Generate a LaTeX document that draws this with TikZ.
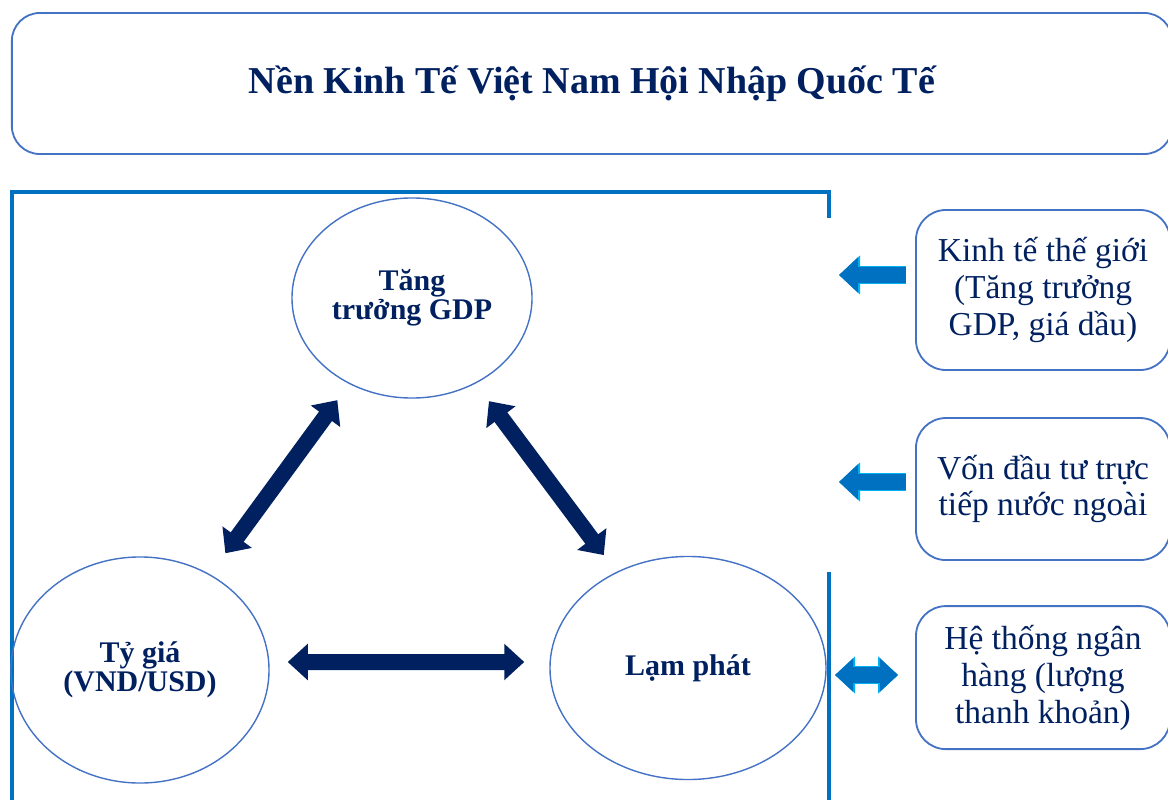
\documentclass[tikz,border=0pt]{standalone}
\usepackage{fontspec}
\setmainfont{Liberation Serif}
\usepackage{tikz}
\usetikzlibrary{arrows.meta, shapes.geometric, positioning}

\definecolor{navy}{HTML}{002060}
\definecolor{lineblue}{HTML}{4472C4}
\definecolor{frameblue}{HTML}{0070C0}
\definecolor{lightcyan}{HTML}{00B0F0}

\begin{document}
\begin{tikzpicture}[x=0.025cm, y=-0.025cm, text=navy,
 main node/.style={ellipse, draw=lineblue, line width=1pt, inner sep=0pt,
   align=center, font=\fontsize{21.3}{20.6}\selectfont\bfseries},
 side node/.style={rectangle, rounded corners=0.75cm, draw=lineblue, line width=1.3pt,
   minimum width=6.35cm, align=center, font=\fontsize{23.8}{26.2}\selectfont},
 big arrow/.style={draw=navy, line width=0.4cm,
   {Triangle[width=0.88cm,length=0.5cm]}-{Triangle[width=0.88cm,length=0.5cm]}},
 small arrow/.style={draw=frameblue, line width=0.4cm},
 frame/.style={draw=frameblue, line width=2.8pt}]
  \useasboundingbox (0,0) rectangle (1168,800);

  % title
  \node[rectangle, rounded corners=0.7cm, draw=lineblue, line width=1.3pt,
    minimum width=29cm, minimum height=3.525cm,
    font=\fontsize{27}{30}\selectfont\bfseries] (title) at (592,83.5)
    {Nền Kinh Tế Việt Nam Hội Nhập Quốc Tế};

  % frame round the three factors
  \draw[frame] (829,218) -- (829,192) -- (12,192) -- (12,802);
  \draw[frame] (829,572) -- (829,802);

  \node[main node, minimum width=6cm, minimum height=5cm] (gdp) at (412,298)
    {Tăng\\trưởng GDP};
  \node[main node, minimum width=6.45cm, minimum height=5.65cm] (tygia) at (140,670)
    {Tỷ giá\\(VND/USD)};
  \node[main node, minimum width=6.9cm, minimum height=5.575cm] (lamphat) at (688,668)
    {Lạm phát};

  \draw[big arrow, shorten <=0.5cm, shorten >=0.65cm] (gdp) -- (tygia);
  \draw[big arrow, shorten <=0.55cm, shorten >=0.525cm] (gdp) -- (lamphat);
  \draw[big arrow, shorten <=0.45cm, shorten >=0.625cm]
    ([yshift=0.2cm]tygia.east) -- ([yshift=0.15cm]lamphat.west);

  % outside factors
  \node[side node, minimum height=4cm] (kinhte) at (1043,290)
    {Kinh tế thế giới\\(Tăng trưởng\\GDP, giá dầu)};
  \node[side node, minimum height=3.55cm, node distance=4.975cm] (fdi) [below of=kinhte]
    {Vốn đầu tư trực\\tiếp nước ngoài};
  \node[side node, minimum height=3.575cm, node distance=4.7125cm] (nganhang) [below of=fdi]
    {Hệ thống ngân\\hàng (lượng\\thanh khoản)};

  \coordinate (w1) at (839,275);
  \coordinate (w2) at (839,482);
  \coordinate (w3) at (835,675);
  \foreach \s/\t in {kinhte/w1, fdi/w2} {
   \draw[small arrow, -{Triangle[width=0.85cm,length=0.47cm]}, shorten <=0.225cm,
     preaction={draw=lightcyan, line width=0.46cm, -{Triangle[width=0.95cm,length=0.53cm]}}]
     (\s.west |- \t) -- (\t);}
  \draw[small arrow, {Triangle[width=0.8cm,length=0.45cm]}-{Triangle[width=0.8cm,length=0.45cm]},
    shorten <=0.425cm,
    preaction={draw=lightcyan, line width=0.46cm,
      {Triangle[width=0.9cm,length=0.5cm]}-{Triangle[width=0.9cm,length=0.5cm]}}]
    (nganhang.west |- w3) -- (w3);
\end{tikzpicture}
\end{document}
